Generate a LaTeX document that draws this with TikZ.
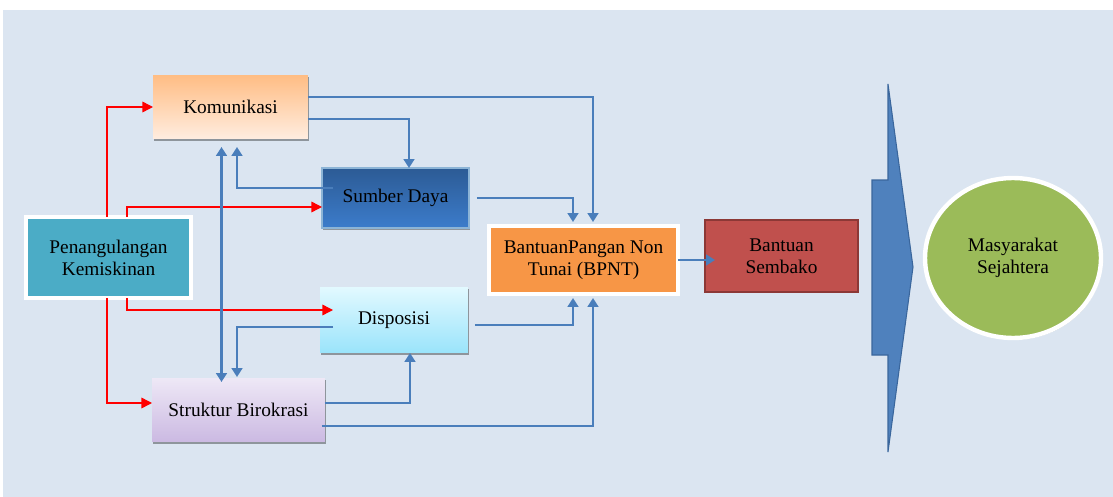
\documentclass[tikz,border=0pt]{standalone}
\usepackage{fontspec}
\setmainfont{Liberation Serif}
\usetikzlibrary{arrows.meta,calc,shapes.geometric,shadows}

\definecolor{bgblue}{HTML}{DBE5F1}
\definecolor{linkblue}{HTML}{4A7EBB}
\definecolor{komtop}{HTML}{FFBD84}
\definecolor{kombot}{HTML}{FFEDE0}
\definecolor{sdtop}{HTML}{2C5B95}
\definecolor{sdbot}{HTML}{3C7CCB}
\definecolor{sdline}{HTML}{8CB4D6}
\definecolor{pkteal}{HTML}{4BACC6}
\definecolor{disptop}{HTML}{E2F9FF}
\definecolor{dispbot}{HTML}{9AE4FB}
\definecolor{sbtop}{HTML}{EEE8F6}
\definecolor{sbbot}{HTML}{CBB9E2}
\definecolor{bpntorange}{HTML}{F79646}
\definecolor{sembred}{HTML}{C0504D}
\definecolor{sembline}{HTML}{8C3836}
\definecolor{msgreen}{HTML}{9BBB59}
\definecolor{bigarrow}{HTML}{4F81BD}
\definecolor{bigline}{HTML}{3A669C}

\tikzset{
	box/.style={rectangle, inner sep=0pt, outer sep=0pt, align=center, font=\fontsize{11}{12.5}\selectfont},
	shd/.style={drop shadow={shadow xshift=0.7pt, shadow yshift=-0.9pt, opacity=0.35, fill=black}},
	link/.style={draw=linkblue, line width=1.7pt, -{Triangle[length=5pt,width=6pt]}},
	linkboth/.style={draw=linkblue, line width=1.7pt, {Triangle[length=5pt,width=6pt]}-{Triangle[length=5pt,width=6pt]}},
	feed/.style={draw=red, line width=0.8pt, -{Triangle[length=6pt,width=6pt]}}
}

\begin{document}
\begin{tikzpicture}[x=0.02cm,y=-0.02cm]
	\useasboundingbox (0,0) rectangle (1113,497);
	\fill[bgblue] (3,10) rectangle (1113,497);
	% boxes
	\node[box,shd,top color=komtop,bottom color=kombot,minimum width=3.1cm,minimum height=1.28cm] (kom) at (230.5,107) {Komunikasi};
	\node[box,shd,top color=sdtop,bottom color=sdbot,draw=sdline,line width=0.8pt,minimum width=2.94cm,minimum height=1.2cm] (sd) at (395.5,198) {Sumber Daya};
	\node[box,shd,fill=pkteal,draw=white,line width=2.3pt,minimum width=3.3cm,minimum height=1.62cm] (pk) at (108.5,257.5) {Penangulangan\\Kemiskinan};
	\node[box,shd,top color=disptop,bottom color=dispbot,minimum width=2.96cm,minimum height=1.32cm] (disp) at (394,320) {Disposisi};
	\node[box,shd,top color=sbtop,bottom color=sbbot,minimum width=3.46cm,minimum height=1.28cm] (sb) at (238.5,410) {Struktur Birokrasi};
	\node[box,shd,fill=bpntorange,draw=white,line width=2.3pt,minimum width=3.78cm,minimum height=1.36cm] (bpnt) at (583.5,260) {BantuanPangan Non\\Tunai (BPNT)};
	\node[box,fill=sembred,draw=sembline,line width=0.8pt,minimum width=3.06cm,minimum height=1.44cm] (semb) at (781.5,256) {Bantuan\\Sembako};
	\node[box,ellipse,shd,fill=msgreen,draw=white,line width=2.5pt,minimum width=3.52cm,minimum height=3.2cm] (ms) at (1013,258) {Masyarakat\\Sejahtera};
	% big arrow
	\filldraw[fill=bigarrow,draw=bigline,line width=0.6pt] (888,84) -- (913,267) -- (888,452) -- (888,355) -- (872,355) -- (872,180) -- (888,180) -- cycle;
	% red links
	\draw[feed] ($(pk.north)+(-1.5,0)$) |- (kom.west);
	\draw[feed] ($(pk.north)+(18.5,0)$) |- ($(sd.west)+(0,9)$);
	\draw[feed] ($(pk.south)+(18.5,0)$) |- ($(disp.west)+(13,-10)$);
	\draw[feed] ($(pk.south)+(-1.5,0)$) |- ($(sb.west)+(0,-7)$);
	% blue links
	\draw[link] ($(kom.east)+(0,-10)$) -| ($(bpnt.north)+(9.5,-4)$);
	\draw[link] ($(kom.east)+(0,12)$) -| ($(sd.north)+(13.5,0)$);
	\draw[link] ($(sd.west)+(11,-10)$) -| ($(kom.south)+(6.5,8)$);
	\draw[linkboth] ($(kom.south)+(-9,8)$) -- ($(sb.north)+(-17,4)$);
	\draw[link] ($(disp.west)+(13,7)$) -| ($(sb.north)+(-1.5,-1)$);
	\draw[link] ($(sd.east)+(8,0)$) -| ($(bpnt.north)+(-10.5,-4)$);
	\draw[link] ($(disp.east)+(7,5)$) -| ($(bpnt.south)+(-10.5,4)$);
	\draw[link] ($(sb.east)+(0,-7)$) -| ($(disp.south)+(16,0)$);
	\draw[link] ($(sb.east)+(-3,16)$) -| ($(bpnt.south)+(9.5,4)$);
	\draw[link] (bpnt.east) -- ($(bpnt.east -| semb.west)+(10,0)$);
\end{tikzpicture}
\end{document}
